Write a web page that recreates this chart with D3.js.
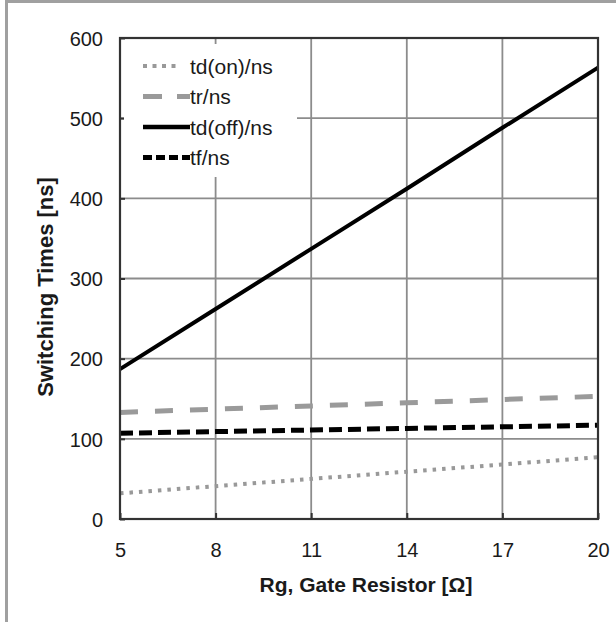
<!DOCTYPE html>
<html>
<head>
<meta charset="utf-8">
<script src="https://cdn.jsdelivr.net/npm/d3@7"></script>
<style>
  html, body { margin: 0; padding: 0; background: #fff; }
  svg { display: block; font-family: "Liberation Sans", Arial, sans-serif; }
</style>
</head>
<body>
<svg id="chart" width="616" height="622"></svg>
<script>
// Gate resistor values (Ω) and switching times (ns)
const rg = [5, 8, 11, 14, 17, 20];
const tdOn  = [32, 41, 50, 59, 68, 77];
const tr    = [133, 137, 141, 145, 149, 153];
const tdOff = [187, 262, 337, 412, 488, 563];
const tf    = [107, 109, 111, 113, 115, 117];

const xTicks = [5, 8, 11, 14, 17, 20];
const yTicks = [0, 100, 200, 300, 400, 500, 600];

const seriesNames = ["td(on)/ns", "tr/ns", "td(off)/ns", "tf/ns"];
const seriesValues = [tdOn, tr, tdOff, tf];
const seriesStyle = [
  { color: "#999999", width: 4,   dash: "3.5 6" },
  { color: "#9a9a9a", width: 5,   dash: "18 17" },
  { color: "#000000", width: 4,   dash: null },
  { color: "#000000", width: 5,   dash: "13 6" }
];
const legendDash = ["4 5.5", "19 15", null, "9 4"];

const svg = d3.select("#chart");
const plotL = 120, plotR = 598, plotT = 38, plotB = 519;

const x = d3.scaleLinear().domain([5, 20]).range([plotL, plotR]);
const y = d3.scaleLinear().domain([0, 600]).range([plotB, plotT]);

// outer frame (top and left edges)
svg.append("line").attr("x1", 5).attr("x2", 616).attr("y1", 1.5).attr("y2", 1.5)
  .attr("stroke", "#a0a0a0").attr("stroke-width", 3);
svg.append("line").attr("x1", 6.5).attr("x2", 6.5).attr("y1", 0).attr("y2", 622)
  .attr("stroke", "#a0a0a0").attr("stroke-width", 3);

// gridlines
const grid = svg.append("g").attr("stroke", "#8c8c8c").attr("stroke-width", 1.8);
grid.selectAll("line.h").data(yTicks.slice(1, -1)).join("line")
  .attr("class", "h")
  .attr("x1", plotL).attr("x2", plotR)
  .attr("y1", d => y(d)).attr("y2", d => y(d));
grid.selectAll("line.v").data(xTicks.slice(1, -1)).join("line")
  .attr("class", "v")
  .attr("y1", plotT).attr("y2", plotB)
  .attr("x1", d => x(d)).attr("x2", d => x(d));

// axes (ticks drawn slightly inside the plot frame)
const yAxis = svg.append("g").attr("transform", `translate(${plotL},0)`)
  .call(d3.axisLeft(y).tickValues(yTicks).tickSizeInner(-5).tickSizeOuter(0).tickPadding(17));
const xAxis = svg.append("g").attr("transform", `translate(0,${plotB})`)
  .call(d3.axisBottom(x).tickValues(xTicks).tickSizeInner(-6).tickSizeOuter(0).tickPadding(24));
[yAxis, xAxis].forEach(a => {
  a.select(".domain").remove();
  a.selectAll(".tick line").attr("stroke", "#333").attr("stroke-width", 2);
  a.selectAll(".tick text").attr("fill", "#1a1a1a")
    .style("font-size", "20px").style("font-family", "'Liberation Sans', Arial, sans-serif");
});
yAxis.selectAll(".tick text").attr("dy", "0.36em");
xAxis.selectAll(".tick text").attr("dy", "0.71em");

// data lines
const line = d3.line().x((d, i) => x(rg[i])).y(d => y(d));
const lineOrder = [0, 1, 3, 2];
lineOrder.forEach(k => {
  const s = seriesStyle[k];
  svg.append("path").datum(seriesValues[k])
    .attr("d", line)
    .attr("fill", "none")
    .attr("stroke", s.color)
    .attr("stroke-width", s.width)
    .attr("stroke-dasharray", s.dash);
});

// plot frame
svg.append("rect").attr("x", plotL).attr("y", plotT)
  .attr("width", plotR - plotL).attr("height", plotB - plotT)
  .attr("fill", "none").attr("stroke", "#333").attr("stroke-width", 2.2);

// legend
const lg = svg.append("g");
lg.append("rect").attr("x", 124).attr("y", 44).attr("width", 173).attr("height", 133).attr("fill", "#fff");
const rowY = [66, 96.5, 127, 157.5];
seriesNames.forEach((name, k) => {
  const s = seriesStyle[k];
  lg.append("line")
    .attr("x1", 143).attr("x2", k === 0 ? 181 : 190)
    .attr("y1", rowY[k]).attr("y2", rowY[k])
    .attr("stroke", s.color).attr("stroke-width", k === 2 ? 4.5 : s.width)
    .attr("stroke-dasharray", legendDash[k]);
  lg.append("text").attr("x", 190).attr("y", rowY[k]).attr("dy", "0.36em")
    .attr("fill", "#1a1a1a").style("font-size", "21px").text(name);
});

// axis titles
svg.append("text")
  .attr("x", (plotL + plotR) / 2 + 7).attr("y", 592)
  .attr("text-anchor", "middle").attr("fill", "#1a1a1a")
  .style("font-size", "21px").style("font-weight", "bold")
  .text("Rg, Gate Resistor [Ω]");
svg.append("text")
  .attr("transform", "translate(53,287) rotate(-90)")
  .attr("text-anchor", "middle").attr("fill", "#1a1a1a")
  .style("font-size", "22px").style("font-weight", "bold")
  .text("Switching Times [ns]");
</script>
</body>
</html>
